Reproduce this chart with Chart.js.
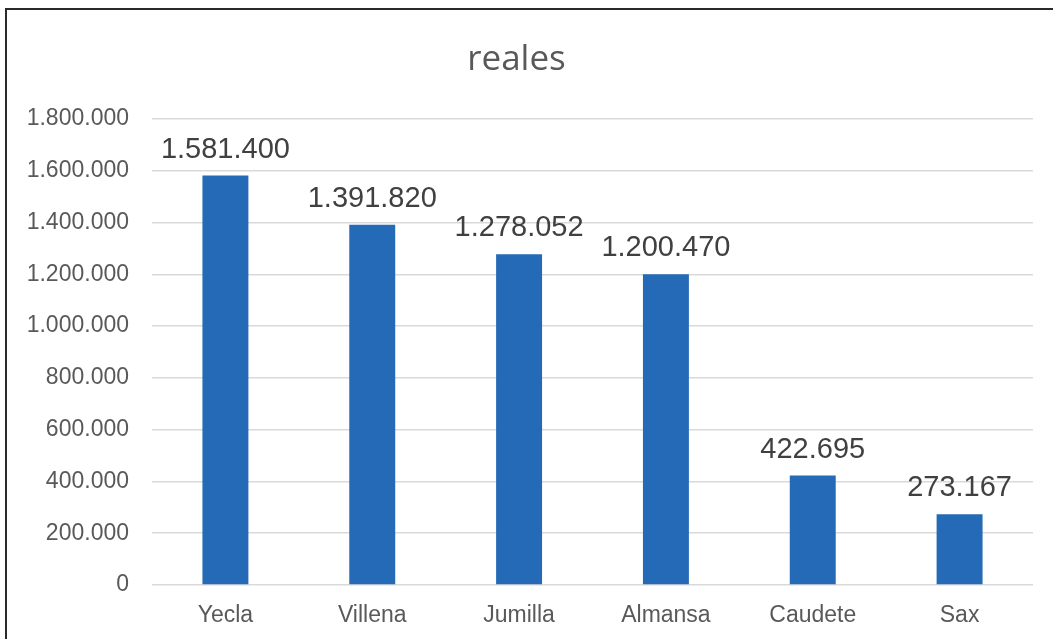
<!DOCTYPE html>
<html>
<head>
<meta charset="utf-8">
<script src="https://cdn.jsdelivr.net/npm/chart.js@4.4.0/dist/chart.umd.min.js"></script>
<style>
  html, body { margin: 0; padding: 0; background: #ffffff; }
  #wrap { position: relative; width: 1053px; height: 639px; overflow: hidden; background: #fff; }
  #frame { position: absolute; left: 5px; top: 8px; width: 1200px; height: 800px;
           border-top: 2px solid #2a2a2a; border-left: 2px solid #2a2a2a; }
  canvas { position: absolute; left: 0; top: 0; }
</style>
</head>
<body>
<div id="wrap">
  <div id="frame"></div>
  <canvas id="c" width="1053" height="639"></canvas>
</div>
<script>
const chartTitle = "reales";
const categories = ["Yecla", "Villena", "Jumilla", "Almansa", "Caudete", "Sax"];
const values = [1581400, 1391820, 1278052, 1200470, 422695, 273167];
const yMin = 0;
const yMax = 1800000;
const yStep = 200000;

function fmt(n) {
  return String(Math.round(n)).replace(/\B(?=(\d{3})+(?!\d))/g, ".");
}

const valueLabels = {
  id: "valueLabels",
  afterDatasetsDraw(chart) {
    const ctx = chart.ctx;
    const meta = chart.getDatasetMeta(0);
    ctx.save();
    ctx.font = "29px 'Liberation Sans', Arial, sans-serif";
    ctx.fillStyle = "#404040";
    ctx.textAlign = "center";
    ctx.textBaseline = "alphabetic";
    meta.data.forEach((el, i) => {
      ctx.fillText(fmt(values[i]), el.x, el.y - 18);
    });
    ctx.restore();
  }
};

new Chart(document.getElementById("c"), {
  type: "bar",
  data: {
    labels: categories,
    datasets: [{
      data: values,
      backgroundColor: "#256ab7",
      borderWidth: 0,
      categoryPercentage: 1.0,
      barPercentage: 0.313
    }]
  },
  options: {
    responsive: false,
    animation: false,
    devicePixelRatio: 1,
    layout: { padding: { left: 0, right: 20, top: 0, bottom: 0 } },
    plugins: {
      legend: { display: false },
      tooltip: { enabled: false },
      title: {
        display: true,
        text: chartTitle,
        color: "#595959",
        font: { family: "'Open Sans', 'Noto Sans', sans-serif", size: 35, weight: "normal" },
        padding: { top: 39, bottom: 38 }
      }
    },
    scales: {
      x: {
        afterFit(scale) { scale.height = 54; },
        grid: { display: false, drawTicks: false },
        border: { display: false },
        ticks: {
          color: "#595959",
          padding: 17,
          font: { family: "'Liberation Sans', Arial, sans-serif", size: 23 }
        }
      },
      y: {
        min: yMin,
        max: yMax,
        afterFit(scale) { scale.width = 152; },
        grid: { color: "#d9d9d9", lineWidth: 1.5, drawTicks: false },
        border: { display: false },
        ticks: {
          stepSize: yStep,
          color: "#595959",
          padding: 23,
          font: { family: "'Liberation Sans', Arial, sans-serif", size: 23 },
          callback: (v) => fmt(v)
        }
      }
    }
  },
  plugins: [valueLabels]
});
</script>
</body>
</html>
